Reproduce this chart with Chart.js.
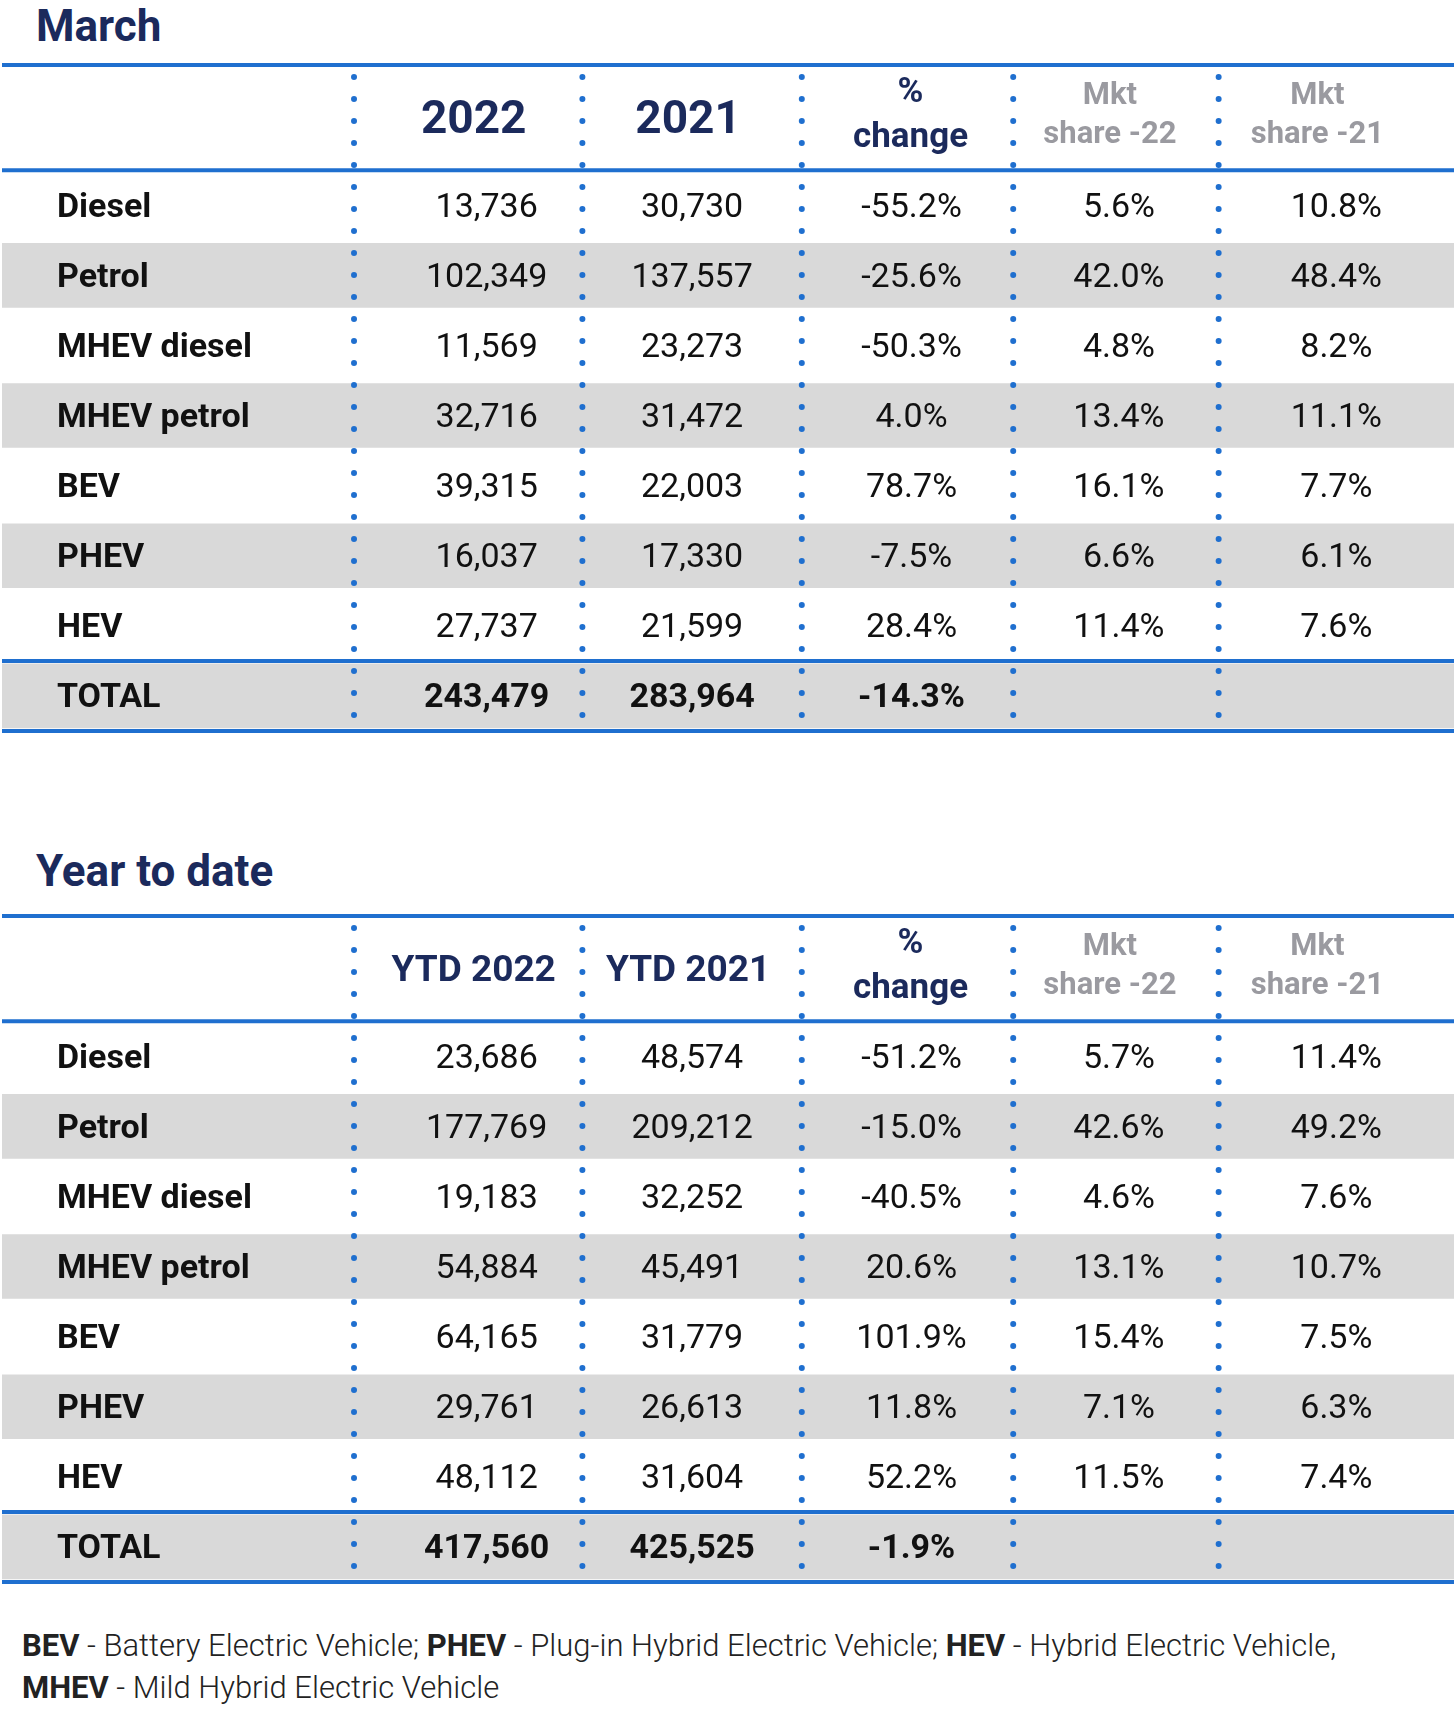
<!DOCTYPE html>
<html><head><meta charset="utf-8">
<script src="https://cdn.jsdelivr.net/npm/chart.js@4"></script>
<style>
body{margin:0;width:1456px;height:1709px;position:relative;background:#fff;font-family:Roboto,sans-serif}
h2{position:absolute;left:36px;margin:0;font-size:44px;font-weight:700;color:#1b2a5c}
.box{position:absolute;left:0;width:1456px;height:677px}
.foot{position:absolute;left:22px;top:1625px;font-size:31px;line-height:42px;color:#222;font-weight:300}
.foot b{font-weight:700}
</style></head><body>
<h2 style="top:0px">March</h2>
<div class="box" style="top:60px"><canvas id="c1"></canvas></div>
<h2 style="top:845px">Year to date</h2>
<div class="box" style="top:911px"><canvas id="c2"></canvas></div>
<div class="foot"><b>BEV</b> - Battery Electric Vehicle; <b>PHEV</b> - Plug-in Hybrid Electric Vehicle; <b>HEV</b> - Hybrid Electric Vehicle,<br><b>MHEV</b> - Mild Hybrid Electric Vehicle</div>
<script>
const categories = ['Diesel', 'Petrol', 'MHEV diesel', 'MHEV petrol', 'BEV', 'PHEV', 'HEV', 'TOTAL'];
const headersMarch = ['2022', '2021', '%|change', 'Mkt|share -22', 'Mkt|share -21'];
const headersYtd = ['YTD 2022', 'YTD 2021', '%|change', 'Mkt|share -22', 'Mkt|share -21'];
const march2022 = ['13,736', '102,349', '11,569', '32,716', '39,315', '16,037', '27,737', '243,479'];
const march2021 = ['30,730', '137,557', '23,273', '31,472', '22,003', '17,330', '21,599', '283,964'];
const marchChange = ['-55.2%', '-25.6%', '-50.3%', '4.0%', '78.7%', '-7.5%', '28.4%', '-14.3%'];
const marchShare22 = ['5.6%', '42.0%', '4.8%', '13.4%', '16.1%', '6.6%', '11.4%', ''];
const marchShare21 = ['10.8%', '48.4%', '8.2%', '11.1%', '7.7%', '6.1%', '7.6%', ''];
const ytd2022 = ['23,686', '177,769', '19,183', '54,884', '64,165', '29,761', '48,112', '417,560'];
const ytd2021 = ['48,574', '209,212', '32,252', '45,491', '31,779', '26,613', '31,604', '425,525'];
const ytdChange = ['-51.2%', '-15.0%', '-40.5%', '20.6%', '101.9%', '11.8%', '52.2%', '-1.9%'];
const ytdShare22 = ['5.7%', '42.6%', '4.6%', '13.1%', '15.4%', '7.1%', '11.5%', ''];
const ytdShare21 = ['11.4%', '49.2%', '7.6%', '10.7%', '7.5%', '6.3%', '7.4%', ''];

// layout (fractions of width)
const dividers = [353, 582, 802, 1014, 1220].map(v => v / 1456);
const valueX = [486, 692, 912, 1120, 1338].map(v => v / 1456);
const headX = [473, 688, 911, 1111, 1319].map(v => v / 1456);
const BLUE = '#1f6fcf', NAVY = '#1b2a5c';

function makeTable(id, headers, cols) {
  const bands = categories.map((c, i) => i % 2 === 1 ? { x: [0, 1], y: i + 0.5 } : null).filter(Boolean);
  const tablePlugin = {
    id: 'tableText',
    afterDatasetsDraw(chart) {
      const ctx = chart.ctx, xs = chart.scales.x, ys = chart.scales.y;
      const X = f => xs.getPixelForValue(f), Y = v => ys.getPixelForValue(v);
      ctx.save();
      // dotted dividers
      ctx.fillStyle = BLUE;
      dividers.forEach(d => {
        for (let y = Y(-1.5) + 12; y < Y(8) - 4; y += 22) {
          ctx.beginPath(); ctx.arc(X(d), y, 3, 0, Math.PI * 2); ctx.fill();
        }
      });
      // blue rules
      ctx.strokeStyle = BLUE; ctx.lineWidth = 4;
      [-1.5, 0, 7, 8].forEach(v => { ctx.beginPath(); ctx.moveTo(X(0), Y(v)); ctx.lineTo(X(1), Y(v)); ctx.stroke(); });
      ctx.textBaseline = 'middle';
      // headers
      headers.forEach((h, j) => {
        const parts = h.split('|');
        ctx.textAlign = 'center';
        if (parts.length === 1) {
          ctx.fillStyle = NAVY;
          ctx.font = (h.length > 4 ? '700 37px' : '700 46px') + ' Roboto';
          ctx.fillText(h, X(headX[j]), Y(-0.7));
        } else {
          const grey = parts[0] === 'Mkt';
          ctx.fillStyle = grey ? '#9a9aa0' : NAVY;
          ctx.font = (grey ? '700 31px' : '700 35px') + ' Roboto';
          ctx.fillText(parts[0], X(headX[j]), Y(grey ? -1.05 : -1.1));
          ctx.fillText(parts[1], X(headX[j]), Y(grey ? -0.5 : -0.45));
        }
      });
      // rows
      categories.forEach((c, i) => {
        const total = i === 7, y = Y(i + 0.5) + 3;
        ctx.fillStyle = '#111';
        ctx.textAlign = 'left';
        ctx.font = '700 34px Roboto';
        ctx.fillText(c, 57, y);
        ctx.textAlign = 'center';
        ctx.font = (total ? '700' : '400') + ' 34px Roboto';
        cols.forEach((col, j) => ctx.fillText(col[i], X(valueX[j]), y));
      });
      ctx.restore();
    }
  };
  new Chart(document.getElementById(id), {
    type: 'bar',
    data: {
      datasets: [{ data: bands, backgroundColor: '#d9d9d9', barThickness: 64, borderSkipped: false }]
    },
    options: {
      indexAxis: 'y',
      responsive: true, maintainAspectRatio: false, animation: false,
      layout: { padding: { top: 5, bottom: 6, left: 2, right: 2 } },
      plugins: { legend: { display: false }, tooltip: { enabled: false } },
      scales: {
        x: { type: 'linear', min: 0, max: 1, display: false },
        y: { type: 'linear', min: -1.5, max: 8, reverse: true, offset: false, display: false }
      }
    },
    plugins: [tablePlugin]
  });
}
makeTable('c1', headersMarch, [march2022, march2021, marchChange, marchShare22, marchShare21]);
makeTable('c2', headersYtd, [ytd2022, ytd2021, ytdChange, ytdShare22, ytdShare21]);
</script>
</body></html>
